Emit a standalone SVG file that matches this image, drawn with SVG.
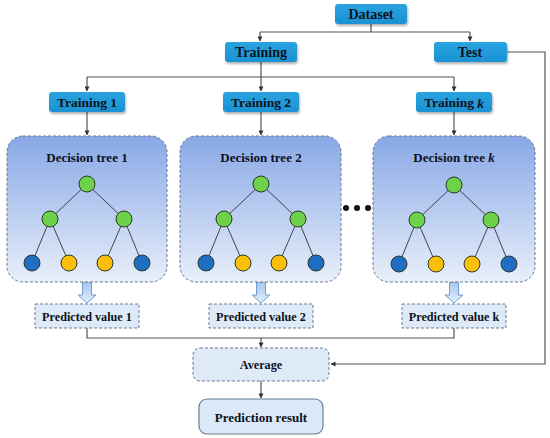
<svg xmlns="http://www.w3.org/2000/svg" width="550" height="438" viewBox="0 0 550 438">
<defs>
<linearGradient id="treeGrad" x1="0" y1="0" x2="0" y2="1">
<stop offset="0" stop-color="#88a8e6"/>
<stop offset="1" stop-color="#e8effa"/>
</linearGradient>
<linearGradient id="arrGrad" x1="0" y1="0" x2="0" y2="1">
<stop offset="0" stop-color="#a8c5ee"/>
<stop offset="1" stop-color="#e4eefb"/>
</linearGradient>
<linearGradient id="blueGrad" x1="0" y1="0" x2="0" y2="1">
<stop offset="0" stop-color="#2aa3e0"/>
<stop offset="1" stop-color="#1b92d2"/>
</linearGradient>
<filter id="sh" x="-20%" y="-30%" width="140%" height="170%">
<feDropShadow dx="1" dy="2" stdDeviation="1.2" flood-color="#000" flood-opacity="0.3"/>
</filter>
<marker id="ah" viewBox="0 0 6 6" refX="5.5" refY="3" markerWidth="5" markerHeight="5" orient="auto" markerUnits="userSpaceOnUse">
<path d="M0,0 L6,3 L0,6 z" fill="#333"/>
</marker>
<g id="tree">
<g stroke="#333" stroke-width="0.9">
<line x1="0" y1="0" x2="-37" y2="35"/>
<line x1="0" y1="0" x2="37" y2="35"/>
<line x1="-37" y1="35" x2="-55" y2="79"/>
<line x1="-37" y1="35" x2="-18" y2="79"/>
<line x1="37" y1="35" x2="18" y2="79"/>
<line x1="37" y1="35" x2="55" y2="79"/>
</g>
<g stroke="#2a3a2a" stroke-width="1">
<circle cx="0" cy="0" r="8" fill="#6dd14a"/>
<circle cx="-37" cy="35" r="8" fill="#6dd14a"/>
<circle cx="37" cy="35" r="8" fill="#6dd14a"/>
<circle cx="-55" cy="79" r="8" fill="#1f6ec2"/>
<circle cx="-18" cy="79" r="8" fill="#fbbf0a"/>
<circle cx="18" cy="79" r="8" fill="#fbbf0a"/>
<circle cx="55" cy="79" r="8" fill="#1f6ec2"/>
</g>
</g>
<path id="barrow" d="M-4.5,0 H4.5 V13 H9 L0,21 L-9,13 H-4.5 Z" fill="url(#arrGrad)" stroke="#6d9fd6" stroke-width="1"/>
</defs>
<style>
.t{font-family:"Liberation Serif","Times New Roman",serif;font-weight:bold;font-size:13px;fill:#0d1220;text-anchor:middle;dominant-baseline:central}
.big{font-size:14px}
.mid{font-size:13.5px}
.sm{font-size:12.2px}
.bx{fill:url(#blueGrad);filter:url(#sh)}
.tb{fill:url(#treeGrad);stroke:#6a7890;stroke-width:1;stroke-dasharray:3 2}
.pv{fill:#dfeaf8;stroke:#6a7890;stroke-width:1;stroke-dasharray:3 2}
.c{fill:none;stroke:#555;stroke-width:1.2}
</style>

<g id="connectors">
<path class="c" d="M371,24 V32"/>
<path class="c" d="M260,32 H470"/>
<path class="c" d="M260,32 V41" marker-end="url(#ah)"/>
<path class="c" d="M470,32 V41" marker-end="url(#ah)"/>
<path class="c" d="M261,62 V77"/>
<path class="c" d="M87,77 H454"/>
<path class="c" d="M87,77 V91" marker-end="url(#ah)"/>
<path class="c" d="M261,77 V91" marker-end="url(#ah)"/>
<path class="c" d="M454,77 V91" marker-end="url(#ah)"/>
<path class="c" d="M87,112 V135" marker-end="url(#ah)"/>
<path class="c" d="M261,112 V135" marker-end="url(#ah)"/>
<path class="c" d="M454,112 V135" marker-end="url(#ah)"/>
<path class="c" d="M507,52 H545 V364 H331" marker-end="url(#ah)"/>
<path class="c" d="M87,328 V338 H454 V328"/>
<path class="c" d="M261,338 V347" marker-end="url(#ah)"/>
<path class="c" d="M261,381 V398" marker-end="url(#ah)"/>
<use href="#barrow" x="87" y="282"/>
<use href="#barrow" x="261" y="282"/>
<use href="#barrow" x="454" y="282"/>
</g>

<g id="dataset"><rect class="bx" x="335" y="4" width="72" height="20" rx="3"/><text class="t big" x="371" y="14.5">Dataset</text></g>
<g id="training"><rect class="bx" x="225" y="42" width="72" height="20" rx="3"/><text class="t big" x="261" y="52.5">Training</text></g>
<g id="test"><rect class="bx" x="434" y="42" width="73" height="20" rx="3"/><text class="t big" x="470" y="52.5">Test</text></g>
<g id="training1"><rect class="bx" x="49" y="92" width="76" height="20" rx="3"/><text class="t mid" x="87" y="102.5">Training 1</text></g>
<g id="training2"><rect class="bx" x="223" y="92" width="76" height="20" rx="3"/><text class="t mid" x="261" y="102.5">Training 2</text></g>
<g id="trainingk"><rect class="bx" x="416" y="92" width="76" height="20" rx="3"/><text class="t mid" x="454" y="102.5">Training <tspan font-style="italic">k</tspan></text></g>

<g id="tree1"><rect class="tb" x="7" y="136" width="160" height="146" rx="16"/><text class="t" x="87" y="157">Decision tree 1</text><use href="#tree" x="87" y="184"/></g>
<g id="tree2"><rect class="tb" x="180" y="136" width="161" height="146" rx="16"/><text class="t" x="261" y="157">Decision tree 2</text><use href="#tree" x="261" y="184"/></g>
<g id="treek"><rect class="tb" x="373" y="136" width="162" height="146" rx="16"/><text class="t" x="454" y="157">Decision tree <tspan font-style="italic">k</tspan></text><use href="#tree" x="454" y="185"/></g>

<g id="dots" fill="#111"><circle cx="346" cy="208" r="3"/><circle cx="357" cy="208" r="3"/><circle cx="368" cy="208" r="3"/></g>

<g id="pv1"><rect class="pv" x="35" y="304" width="104" height="24"/><text class="t sm" x="87" y="316.5">Predicted value 1</text></g>
<g id="pv2"><rect class="pv" x="209" y="304" width="104" height="24"/><text class="t sm" x="261" y="316.5">Predicted value 2</text></g>
<g id="pvk"><rect class="pv" x="402" y="304" width="104" height="24"/><text class="t sm" x="454" y="316.5">Predicted value k</text></g>

<g id="average"><rect class="pv" x="193" y="348" width="136" height="33" rx="7"/><text class="t sm" x="261" y="365">Average</text></g>
<g id="result"><rect x="199" y="399" width="124" height="35" rx="8" fill="#dbe8f7" stroke="#6a7c94" stroke-width="1.2"/><text class="t" x="261" y="417">Prediction result</text></g>
</svg>
